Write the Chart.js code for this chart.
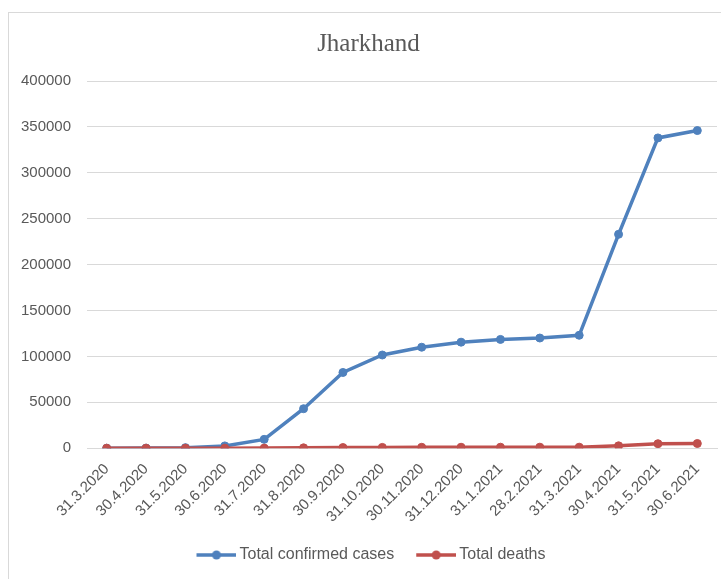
<!DOCTYPE html>
<html>
<head>
<meta charset="utf-8">
<script src="https://cdn.jsdelivr.net/npm/chart.js@4"></script>
<style>
  body { margin: 0; background: #fff; overflow: hidden; }
  #box { position: absolute; left: 8px; top: 12px; width: 728px; height: 580px; border: 1px solid #d9d9d9; }
</style>
</head>
<body>
<div id="box"><canvas id="grafico" width="728" height="580"></canvas></div>
<script>
// dati
var categorie = ["31.3.2020", "30.4.2020", "31.5.2020", "30.6.2020", "31.7.2020", "31.8.2020", "30.9.2020", "31.10.2020",
  "30.11.2020", "31.12.2020", "31.1.2021", "28.2.2021", "31.3.2021", "30.4.2021", "31.5.2021", "30.6.2021"];
var casiTotali = [2, 111, 600, 2500, 9600, 43000, 82500, 101500, 110000, 115500, 118500, 120000, 123000, 233000, 338000, 346000];
var mortiTotali = [0, 3, 5, 15, 94, 400, 700, 880, 970, 1030, 1080, 1090, 1100, 2600, 4900, 5100];
var tickY = [0, 50000, 100000, 150000, 200000, 250000, 300000, 350000, 400000];

var blu = "#4F81BD";
var rosso = "#C0504D";
var grigio = "#595959";

// icona legenda stile excel: linea con pallino (spostata a destra per stare vicino al testo)
function iconaLegenda(colore) {
  var c = document.createElement("canvas");
  c.width = 50; c.height = 12;
  var ctx = c.getContext("2d");
  ctx.strokeStyle = colore;
  ctx.lineWidth = 3.5;
  ctx.beginPath();
  ctx.moveTo(10, 6);
  ctx.lineTo(50, 6);
  ctx.stroke();
  ctx.fillStyle = colore;
  ctx.beginPath();
  ctx.arc(30, 6, 4.5, 0, Math.PI * 2);
  ctx.fill();
  return c;
}

var grafico = new Chart(document.getElementById("grafico"), {
  type: "line",
  data: {
    labels: categorie,
    datasets: [{
      label: "Total confirmed cases",
      data: casiTotali,
      borderColor: blu,
      backgroundColor: blu,
      borderWidth: 3.5,
      pointRadius: 4,
      pointBorderWidth: 1,
      pointBackgroundColor: blu,
      lineTension: 0,
      order: 1
    }, {
      label: "Total deaths",
      data: mortiTotali,
      borderColor: rosso,
      backgroundColor: rosso,
      borderWidth: 3.5,
      pointRadius: 4,
      pointBorderWidth: 1,
      pointBackgroundColor: rosso,
      lineTension: 0,
      order: 0
    }]
  },
  options: {
    responsive: false,
    animation: false,
    layout: { padding: { left: 11, right: 20, top: 0, bottom: 20 } },
    plugins: {
      title: {
        display: true,
        text: "Jharkhand",
        color: grigio,
        font: { family: "Liberation Serif", size: 25, weight: "normal" },
        padding: { top: 16, bottom: 22 }
      },
      legend: {
        position: "bottom",
        labels: {
          color: grigio,
          font: { family: "Liberation Sans", size: 16 },
          usePointStyle: true,
          pointStyleWidth: 40,
          boxHeight: 12,
          padding: 17,
          generateLabels: function(chart) {
            return chart.data.datasets.map(function(ds, i) {
              return {
                text: ds.label,
                fillStyle: ds.borderColor,
                strokeStyle: ds.borderColor,
                fontColor: grigio,
                pointStyle: iconaLegenda(ds.borderColor),
                datasetIndex: i,
                hidden: false
              };
            });
          }
        }
      },
      tooltip: { enabled: false }
    },
    scales: {
      x: {
        offset: true,
        grid: { display: false, tickLength: 8 },
        border: { color: "#d9d9d9" },
        ticks: {
          color: grigio,
          font: { family: "Liberation Sans", size: 15 },
          maxRotation: 45,
          minRotation: 45,
          autoSkip: false,
          padding: 4
        }
      },
      y: {
        min: 0,
        max: 400000,
        // larghezza fissa dell'asse come nell'originale
        afterFit: function(scala) { scala.width = 67; },
        afterBuildTicks: function(scala) {
          scala.ticks = tickY.map(function(v) { return { value: v }; });
        },
        grid: { color: "#d9d9d9", drawTicks: false },
        border: { display: false },
        ticks: {
          color: grigio,
          font: { family: "Liberation Sans", size: 15 },
          padding: 16,
          callback: function(v) { return String(v); }
        }
      }
    }
  }
});
</script>
</body>
</html>
